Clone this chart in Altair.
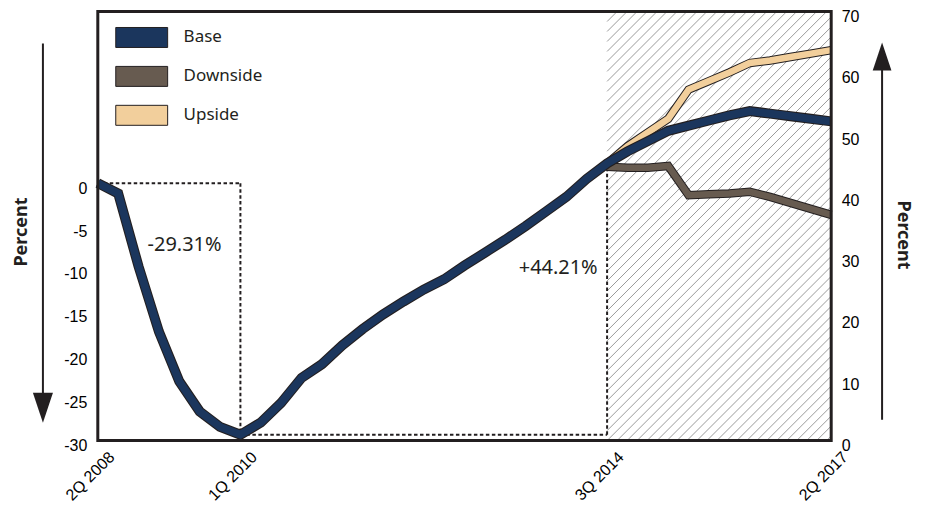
import altair as alt
import pandas as pd
import numpy as np

# ---------------- data ----------------
quarter_labels = [f"{q}Q {y}" for y in range(2008, 2018) for q in range(1, 5)][1:-2]  # 2Q 2008 .. 2Q 2017
tick_index = [0, 7, 25, 36]

base_values = [0.0, -1.2, -9.7, -17.3, -23.1, -26.6, -28.4, -29.31, -27.9, -25.6,
               -22.7, -21.1, -18.9, -17.0, -15.3, -13.8, -12.4, -11.2, -9.6, -8.1,
               -6.6, -5.0, -3.3, -1.6, 0.5, 2.3, 3.7, 4.9, 6.1, 6.7,
               7.3, 7.9, 8.4, 8.1, 7.8, 7.5, 7.2]
forecast_index = list(range(25, 37))
downside_values = [1.9, 1.8, 1.8, 2.0, -1.4, -1.3, -1.2, -1.0, -1.6, -2.3, -3.0, -3.7]
upside_values = [2.3, 4.3, 5.9, 7.5, 10.9, 11.9, 12.9, 14.0, 14.3, 14.7, 15.1, 15.5]

series_names = ["Base", "Downside", "Upside"]
series_colors = ["#1b365d", "#675b50", "#f2cf9c"]

left_ticks = [-30, -25, -20, -15, -10, -5, 0]
right_ticks = [0, 10, 20, 30, 40, 50, 60, 70]
left_domain = [-30, 20]
right_domain = [0, 70]

annotations = pd.DataFrame({"q": [4.26, 22.6], "v": [-7.2, -9.9], "label": ["-29.31%", "+44.21%"]})

peak_q, trough_q, split_q = 0, 7, 25
trough_v = -29.31

# ---------------- frames ----------------
rows = []
for i, v in enumerate(base_values):
    rows.append({"q": i, "v": v, "series": "Base"})
for i, v in zip(forecast_index, downside_values):
    rows.append({"q": i, "v": v, "series": "Downside"})
for i, v in zip(forecast_index, upside_values):
    rows.append({"q": i, "v": v, "series": "Upside"})
lines_df = pd.DataFrame(rows)

W, H = 735, 430
px_q = W / 36.0
px_v = H / (left_domain[1] - left_domain[0])
slope = px_q / px_v           # value units per quarter for a 45 degree line
span_q = (left_domain[1] - left_domain[0]) / slope
step_q = 10.0 / px_q
hatch = []
x0 = split_q - span_q
while x0 < 36:
    q1, v1 = x0, left_domain[0]
    q2, v2 = x0 + span_q, left_domain[1]
    if q1 < split_q:
        v1 = left_domain[0] + (split_q - x0) * slope
        q1 = split_q
    if q2 > 36:
        v2 = left_domain[0] + (36 - x0) * slope
        q2 = 36
    if q2 > q1:
        hatch.append({"q": q1, "v": v1, "q2": q2, "v2": v2})
    x0 += step_q
hatch_df = pd.DataFrame(hatch)

split_v = downside_values[0]
dash_df = pd.DataFrame([
    {"q": peak_q, "v": 0.0, "q2": trough_q, "v2": 0.0},
    {"q": trough_q, "v": 0.0, "q2": trough_q, "v2": trough_v},
    {"q": trough_q, "v": trough_v, "q2": split_q, "v2": trough_v},
    {"q": split_q, "v": trough_v, "q2": split_q, "v2": split_v},
])

FONT = "Noto Sans"
INK = "#231f20"

label_js = "[" + ",".join(f"'{s}'" for s in quarter_labels) + "][datum.value]"

x_enc = alt.X("q:Q", scale=alt.Scale(domain=[0, 36], nice=False, zero=False),
              axis=alt.Axis(values=tick_index, labelExpr=label_js, labelAngle=315,
                            labelAlign="right", labelBaseline="top", labelPadding=8,
                            labelOffset=8, ticks=False, domain=False, grid=False,
                            labelFlush=False, labelOverlap=False, labelFontSize=16,
                            title=None))
y_enc = alt.Y("v:Q", scale=alt.Scale(domain=left_domain, nice=False, zero=False),
              axis=alt.Axis(values=left_ticks, ticks=False, domain=False, grid=False,
                            labelExpr="'' + datum.value",
                            labelPadding=11, labelOffset=5, labelFontSize=16, title=None,
                            orient="left"))

color_scale = alt.Scale(domain=series_names, range=series_colors)

hatch_layer = alt.Chart(hatch_df).mark_rule(stroke="#9a9a9a", strokeWidth=1).encode(
    x=x_enc, x2="q2:Q", y=y_enc, y2="v2:Q")

dash_layer = alt.Chart(dash_df).mark_rule(stroke=INK, strokeWidth=2, strokeDash=[3.5, 2.5]).encode(
    x=x_enc, x2="q2:Q", y=y_enc, y2="v2:Q")

line_layers = []
for name, w_out, w_in in [("Upside", 8.5, 6.5), ("Downside", 8.5, 6.5), ("Base", 10, 7.8)]:
    src = alt.Chart(lines_df).transform_filter(alt.datum.series == name)
    line_layers.append(src.mark_line(stroke=INK, strokeWidth=w_out, strokeJoin="miter").encode(
        x=x_enc, y=y_enc, detail="series:N"))
    line_layers.append(src.mark_line(strokeWidth=w_in, strokeJoin="miter").encode(
        x=x_enc, y=y_enc,
        color=alt.Color("series:N", scale=color_scale, legend=None)))

text_layer = alt.Chart(annotations).mark_text(font=FONT, fontSize=20, color=INK).encode(
    x=x_enc, y=y_enc, text="label:N")

# axis titles, arrows and plot frame (decorations)
deco_df = pd.DataFrame({"t": ["Percent"]})
frame = alt.Chart(deco_df).mark_rect(fillOpacity=0, stroke=INK, strokeWidth=3).encode(
    x=alt.value(0), x2=alt.value(W), y=alt.value(0), y2=alt.value(H))
left_title = alt.Chart(deco_df).mark_text(font=FONT, fontSize=18, fontWeight="bold", angle=270,
                                          color=INK).encode(
    x=alt.value(-76), y=alt.value(221), text="t:N")
right_title = alt.Chart(deco_df).mark_text(font=FONT, fontSize=18, fontWeight="bold", angle=90,
                                           color=INK).encode(
    x=alt.value(807), y=alt.value(224), text="t:N")
left_arrow_line = alt.Chart(deco_df).mark_rule(stroke=INK, strokeWidth=2).encode(
    x=alt.value(-55), y=alt.value(32), y2=alt.value(386))
left_arrow_head = alt.Chart(deco_df).mark_point(shape="M-0.67,-1L0.67,-1L0,1Z", size=900,
                                                filled=True, color=INK, opacity=1).encode(
    x=alt.value(-55), y=alt.value(397))
right_arrow_line = alt.Chart(deco_df).mark_rule(stroke=INK, strokeWidth=2).encode(
    x=alt.value(786), y=alt.value(55), y2=alt.value(409))
right_arrow_head = alt.Chart(deco_df).mark_point(shape="M-0.67,1L0.67,1L0,-1Z", size=784,
                                                 filled=True, color=INK, opacity=1).encode(
    x=alt.value(786), y=alt.value(45))

main = alt.layer(hatch_layer, dash_layer, *line_layers, text_layer, frame,
                 left_title, right_title, left_arrow_line, left_arrow_head,
                 right_arrow_line, right_arrow_head)

right_df = pd.DataFrame({"r": right_domain})
right_axis = alt.Chart(right_df).mark_point(opacity=0).encode(
    y=alt.Y("r:Q", scale=alt.Scale(domain=right_domain, nice=False, zero=False),
            axis=alt.Axis(values=right_ticks, orient="right", ticks=False, domain=False,
                          grid=False, labelPadding=10, labelOffset=5, labelFontSize=16,
                          title=None)))

legend_df = pd.DataFrame({"name": series_names})
leg_y = alt.Y("name:N", scale=alt.Scale(type="point", domain=series_names, range=[26, 104],
                                        padding=0), axis=None)
legend_sw = alt.Chart(legend_df).mark_point(shape="M-1,-0.385L1,-0.385L1,0.385L-1,0.385Z",
                                            size=2704, filled=True, stroke=INK, strokeWidth=1,
                                            opacity=1).encode(
    x=alt.value(44), y=leg_y,
    color=alt.Color("name:N", scale=color_scale, legend=None))
legend_tx = alt.Chart(legend_df).mark_text(font=FONT, fontSize=17, align="left", baseline="middle",
                                           color=INK).encode(
    x=alt.value(86), y=leg_y, text="name:N")
legend = alt.layer(legend_sw, legend_tx)

chart = alt.layer(main, right_axis, legend).resolve_scale(y="independent").properties(
    width=W, height=H,
    padding={"left": 5, "top": 0, "right": 5, "bottom": 0},
).configure_view(strokeWidth=0).configure_axis(
    labelFont=FONT, labelColor=INK
).configure(background="white")

chart.save("out.html", embed_options={"renderer": "svg", "actions": False})
